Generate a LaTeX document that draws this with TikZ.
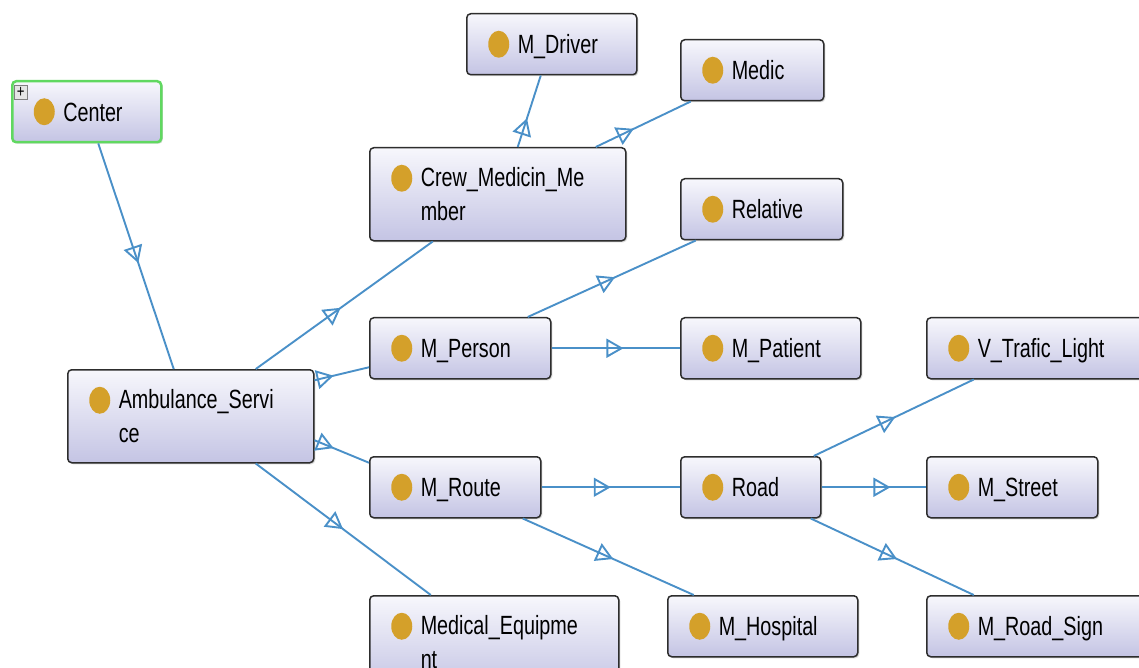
\documentclass[tikz,border=0pt]{standalone}
\usepackage{fontspec}
\setmainfont{Liberation Sans}[FakeStretch=0.75]
\usetikzlibrary{arrows.meta,decorations.markings,shadows,calc}
\definecolor{edgeblue}{RGB}{74,144,200}
\definecolor{boxtop}{RGB}{247,247,252}
\definecolor{boxbot}{RGB}{196,196,228}
\definecolor{boxline}{RGB}{45,45,45}
\definecolor{dot}{RGB}{212,160,42}
\definecolor{selgreen}{RGB}{96,216,96}

\begin{document}
\begin{tikzpicture}[x=0.2mm, y=-0.2mm,
  cls/.style={rectangle, rounded corners=0.8mm, draw=boxline, line width=0.3mm,
    top color=boxtop, bottom color=boxbot, anchor=north west,
    drop shadow={shadow xshift=0.3mm, shadow yshift=-0.3mm, opacity=0.3},
    text width=#1*0.2mm, align=left, inner xsep=0pt, inner ysep=0pt,
    minimum height=12.2mm, text height=10.7pt, text depth=0pt,
    font={\fontsize{15pt}{19.3pt}\selectfont},
    execute at begin node={\leftskip=10.2mm},
    path picture={\fill[dot] ([xshift=6.4mm, yshift=-6.1mm]path picture bounding box.north west) ellipse (2.1mm and 2.7mm);}},
  two/.style={minimum height=18.6mm, text depth=19.3pt},
  sub/.style={draw=edgeblue, line width=0.38mm, postaction={decorate},
    decoration={markings, mark=at position #1 with {\arrow{Triangle[open, length=3.4mm, width=3.8mm]}}}}]
	\useasboundingbox (0,0) rectangle (1139,668);
	\clip (0,0) rectangle (1139,668);
	\node[cls=149, draw=selgreen, line width=0.5mm] (center) at (11,80) {Center};
	\node[draw=gray, fill=gray!20, inner sep=0pt, minimum width=2.5mm, minimum height=2.9mm, anchor=north west, font={\fontsize{10pt}{10pt}\selectfont}] (plus) at (14,85) {+};
	\node[cls=170] (drv) at (466,13) {M\_Driver};
	\node[cls=143] (medic) at (680,39) {Medic};
	\node[cls=256, two] (crew) at (369,147) {Crew\_Medicin\_Me\\mber};
	\node[cls=162] (rel) at (680,178) {Relative};
	\node[cls=181] (pers) at (369,317) {M\_Person};
	\node[cls=180] (pat) at (680,317) {M\_Patient};
	\node[cls=220] (light) at (926,317) {V\_Trafic\_Light};
	\node[cls=246, two] (amb) at (67,369) {Ambulance\_Servi\\ce};
	\node[cls=171] (route) at (369,456) {M\_Route};
	\node[cls=140] (road) at (680,456) {Road};
	\node[cls=171] (street) at (926,456) {M\_Street};
	\node[cls=249, two] (equip) at (369,595) {Medical\_Equipme\\nt};
	\node[cls=190] (hosp) at (667,595) {M\_Hospital};
	\node[cls=220] (sign) at (926,595) {M\_Road\_Sign};
	\draw[sub=0.53] ($(center.south)+(11.5,0)$) -- ($(amb.north)+(-17,0)$);
	\draw[sub=0.48] ($(amb.north)+(65,0)$) -- ($(crew.south)+(-65,0)$);
	\draw[sub=0.35] ($(amb.east)+(0,-36)$) -- ($(pers.west)+(0,19)$);
	\draw[sub=0.35] ($(amb.east)+(0,24)$) -- ($(route.west)+(0,-24.5)$);
	\draw[sub=0.5] ($(amb.south)+(65,0)$) -- ($(equip.north)+(-63.5,0)$);
	\draw[sub=0.4] ($(crew.north)+(20,0)$) -- ($(drv.south)+(-11,0)$);
	\draw[sub=0.4] ($(crew.north)+(98,0)$) -- ($(medic.south)+(-61.5,0)$);
	\draw[sub=0.52] ($(pers.north)+(67.5,0)$) -- ($(rel.south)+(-66,0)$);
	\draw[sub=0.56] (pers.east) -- (pat.west);
	\draw[sub=0.5] (route.east) -- (road.west);
	\draw[sub=0.53] ($(route.south)+(67.5,0)$) -- ($(hosp.north)+(-69,0)$);
	\draw[sub=0.51] ($(road.north)+(63,0)$) -- ($(light.south)+(-63,0)$);
	\draw[sub=0.66] (road.east) -- (street.west);
	\draw[sub=0.53] ($(road.south)+(60,0)$) -- ($(sign.north)+(-63,0)$);
\end{tikzpicture}
\end{document}
